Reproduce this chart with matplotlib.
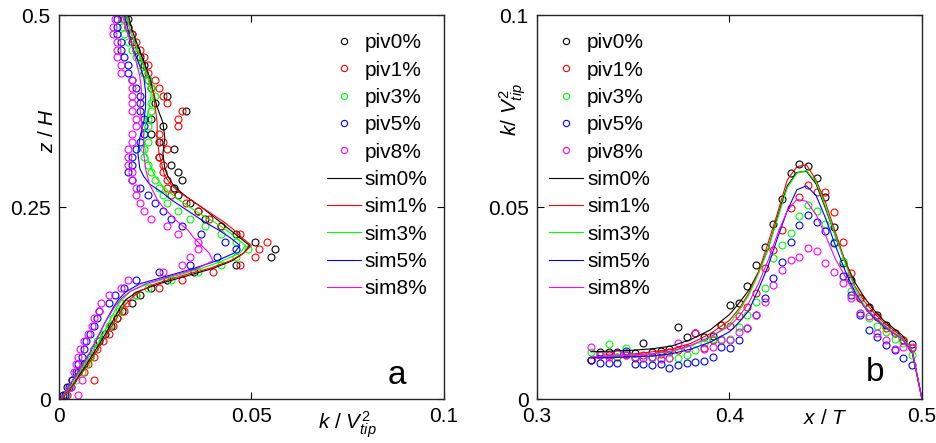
import numpy as np
import matplotlib
matplotlib.use("Agg")
import matplotlib.pyplot as plt

plt.rcParams['font.family'] = ['Liberation Sans', 'DejaVu Sans']
plt.rcParams['mathtext.fontset'] = 'custom'
plt.rcParams['mathtext.rm'] = 'Liberation Sans'
plt.rcParams['mathtext.it'] = 'Liberation Sans:italic'

cases = ['0%', '1%', '3%', '5%', '8%']
colors = ['k', '#ff0000', '#00ff00', '#0000ff', '#ff00ff']

# ---- panel a : k/Vtip^2 vs z/H ----
z_piv = [0.005, 0.015, 0.025, 0.035, 0.045, 0.055, 0.065, 0.075, 0.085, 0.095,
         0.105, 0.115, 0.125, 0.135, 0.145, 0.155, 0.165, 0.175, 0.185, 0.195,
         0.205, 0.215, 0.225, 0.235, 0.245, 0.255, 0.265, 0.275, 0.285, 0.295,
         0.305, 0.315, 0.325, 0.335, 0.345, 0.355, 0.365, 0.375, 0.385, 0.395,
         0.405, 0.415, 0.425, 0.435, 0.445, 0.455, 0.465, 0.475, 0.485, 0.495]

k_piv0 = [0.001, 0.002, 0.0035, 0.005, 0.0065, 0.008, 0.009, 0.0105, 0.012, 0.0135,
          0.015, 0.0165, 0.019, 0.021, 0.024, 0.028, 0.035, 0.046, 0.055, 0.056,
          0.051, 0.046, 0.042, 0.038, 0.036, 0.034, 0.031, 0.030, 0.032, 0.031,
          0.029, 0.026, 0.030, 0.026, 0.024, 0.027, 0.024, 0.033, 0.025, 0.028,
          0.024, 0.023, 0.022, 0.022, 0.021, 0.020, 0.019, 0.019, 0.018, 0.018]
k_piv1 = [0.002, 0.003, 0.009, 0.0065, 0.0075, 0.009, 0.010, 0.0115, 0.013, 0.014,
          0.015, 0.017, 0.0175, 0.020, 0.026, 0.032, 0.040, 0.047, 0.051, 0.052,
          0.054, 0.047, 0.042, 0.039, 0.036, 0.033, 0.029, 0.028, 0.028, 0.027,
          0.027, 0.026, 0.028, 0.027, 0.026, 0.031, 0.031, 0.032, 0.028, 0.027,
          0.026, 0.025, 0.023, 0.023, 0.022, 0.021, 0.020, 0.019, 0.018, 0.017]
k_piv3 = [0.0015, 0.003, 0.0045, 0.006, 0.007, 0.008, 0.009, 0.010, 0.0115, 0.013,
          0.014, 0.0155, 0.016, 0.020, 0.023, 0.029, 0.036, 0.042, 0.046, 0.049,
          0.046, 0.042, 0.038, 0.034, 0.031, 0.028, 0.027, 0.026, 0.025, 0.024,
          0.023, 0.022, 0.022, 0.023, 0.022, 0.023, 0.023, 0.024, 0.024, 0.025,
          0.024, 0.023, 0.022, 0.021, 0.020, 0.019, 0.018, 0.017, 0.0165, 0.0165]
k_piv5 = [0.0015, 0.0025, 0.0035, 0.0045, 0.005, 0.006, 0.0065, 0.007, 0.008, 0.009,
          0.010, 0.0105, 0.013, 0.0145, 0.017, 0.020, 0.026, 0.034, 0.041, 0.046,
          0.043, 0.037, 0.032, 0.029, 0.027, 0.025, 0.023, 0.021, 0.019, 0.018,
          0.019, 0.019, 0.020, 0.021, 0.022, 0.022, 0.022, 0.021, 0.021, 0.021,
          0.020, 0.019, 0.018, 0.018, 0.017, 0.016, 0.016, 0.015, 0.015, 0.015]
k_piv8 = [0.005, 0.003, 0.006, 0.004, 0.0045, 0.005, 0.0055, 0.0065, 0.0075, 0.0085,
          0.009, 0.0105, 0.011, 0.013, 0.016, 0.018, 0.027, 0.032, 0.034, 0.036,
          0.036, 0.031, 0.028, 0.024, 0.022, 0.021, 0.020, 0.020, 0.019, 0.019,
          0.018, 0.018, 0.018, 0.019, 0.019, 0.020, 0.020, 0.019, 0.019, 0.019,
          0.019, 0.019, 0.016, 0.016, 0.015, 0.015, 0.015, 0.014, 0.014, 0.0145]

z_sim = [0, 0.02, 0.04, 0.06, 0.08, 0.1, 0.12, 0.13, 0.14, 0.15, 0.16, 0.17,
         0.18, 0.19, 0.2, 0.21, 0.22, 0.23, 0.24, 0.25, 0.26, 0.27, 0.28, 0.29,
         0.3, 0.32, 0.34, 0.36, 0.38, 0.4, 0.42, 0.44, 0.46, 0.48, 0.5]

k_sim0 = [0.0006, 0.0038, 0.0065, 0.009, 0.0115, 0.0138, 0.016, 0.0175, 0.0205,
          0.026, 0.033, 0.040, 0.045, 0.048, 0.0495, 0.047, 0.0445, 0.042, 0.0395,
          0.037, 0.034, 0.0315, 0.0295, 0.0283, 0.0275, 0.027, 0.0275, 0.027,
          0.0255, 0.0245, 0.0235, 0.022, 0.0205, 0.019, 0.018]
k_sim1 = [0.0008, 0.004, 0.0068, 0.0095, 0.012, 0.0143, 0.0168, 0.0185, 0.021,
          0.025, 0.0315, 0.039, 0.0445, 0.048, 0.050, 0.0475, 0.0455, 0.043, 0.040,
          0.037, 0.034, 0.031, 0.029, 0.0275, 0.027, 0.026, 0.0255, 0.0255, 0.025,
          0.0245, 0.023, 0.0215, 0.020, 0.0185, 0.0175]
k_sim3 = [0.0005, 0.0035, 0.006, 0.0085, 0.011, 0.013, 0.015, 0.0165, 0.0185,
          0.023, 0.030, 0.037, 0.0425, 0.047, 0.0485, 0.046, 0.0435, 0.0405, 0.037,
          0.034, 0.031, 0.0285, 0.0265, 0.025, 0.024, 0.0225, 0.022, 0.0225,
          0.0235, 0.024, 0.023, 0.0215, 0.020, 0.0185, 0.0175]
k_sim5 = [0.0004, 0.003, 0.0055, 0.008, 0.010, 0.012, 0.0142, 0.0155, 0.0175,
          0.021, 0.028, 0.035, 0.041, 0.0455, 0.047, 0.0445, 0.0415, 0.038, 0.035,
          0.032, 0.029, 0.0265, 0.0235, 0.022, 0.021, 0.0205, 0.021, 0.022, 0.0225,
          0.0225, 0.022, 0.0205, 0.019, 0.018, 0.017]
k_sim8 = [0.0004, 0.003, 0.0055, 0.008, 0.010, 0.012, 0.0145, 0.016, 0.0185,
          0.0225, 0.029, 0.036, 0.040, 0.039, 0.037, 0.035, 0.0335, 0.031, 0.029,
          0.027, 0.0255, 0.0245, 0.0235, 0.023, 0.0225, 0.022, 0.022, 0.0215,
          0.021, 0.0215, 0.021, 0.020, 0.019, 0.0175, 0.0165]

# ---- panel b : k/Vtip^2 vs x/T ----
x_piv = [0.3282, 0.3327, 0.3372, 0.3417, 0.3462, 0.3507, 0.3552, 0.3597, 0.3642,
         0.3687, 0.3732, 0.3777, 0.3822, 0.3868, 0.3913, 0.3958, 0.4003, 0.4048,
         0.4093, 0.4138, 0.4183, 0.4228, 0.4273, 0.4318, 0.4363, 0.4408, 0.4453,
         0.4498, 0.4543, 0.4588, 0.4633, 0.4678, 0.4723, 0.4768, 0.4813, 0.4858,
         0.4903, 0.4948]

kb_piv0 = [0.0102, 0.0123, 0.0123, 0.0123, 0.012, 0.012, 0.0145, 0.0123, 0.0126,
           0.0129, 0.0188, 0.0162, 0.0171, 0.0162, 0.0165, 0.0193, 0.0245, 0.0249,
           0.0294, 0.0349, 0.0397, 0.0457, 0.0521, 0.0588, 0.0611, 0.0608, 0.0575,
           0.0527, 0.0449, 0.0353, 0.031, 0.0262, 0.024, 0.0219, 0.0193, 0.0171,
           0.0154, 0.0142]
kb_piv1 = [0.0102, 0.0115, 0.0115, 0.011, 0.0115, 0.0106, 0.0115, 0.011, 0.0117,
           0.0123, 0.0128, 0.0132, 0.0171, 0.0132, 0.0154, 0.0193, 0.019, 0.0216,
           0.024, 0.0275, 0.034, 0.0388, 0.044, 0.0497, 0.0527, 0.0557, 0.054,
           0.054, 0.0488, 0.041, 0.0327, 0.0262, 0.0236, 0.0214, 0.0184, 0.0171,
           0.0154, 0.0132]
kb_piv3 = [0.0123, 0.0115, 0.0142, 0.011, 0.0132, 0.011, 0.0106, 0.0108, 0.0108,
           0.0106, 0.0108, 0.0115, 0.0128, 0.0145, 0.0155, 0.0155, 0.0155, 0.0187,
           0.0218, 0.0252, 0.0288, 0.0368, 0.0401, 0.0433, 0.0477, 0.0505, 0.049,
           0.0457, 0.041, 0.036, 0.028, 0.0225, 0.021, 0.019, 0.0175, 0.0155,
           0.0145, 0.0115]
kb_piv5 = [0.0102, 0.0095, 0.0093, 0.0095, 0.0126, 0.0091, 0.009, 0.0089, 0.009,
           0.0082, 0.0089, 0.0093, 0.0097, 0.0099, 0.011, 0.0136, 0.0132, 0.0154,
           0.0184, 0.0219, 0.0264, 0.0316, 0.0358, 0.041, 0.0453, 0.0479, 0.0462,
           0.0438, 0.0405, 0.032, 0.027, 0.0219, 0.018, 0.0162, 0.0141, 0.0128,
           0.0106, 0.0089]
kb_piv8 = [0.0136, 0.0115, 0.011, 0.0119, 0.0115, 0.011, 0.0106, 0.011, 0.0103,
           0.0106, 0.0145, 0.0132, 0.0171, 0.013, 0.0136, 0.0154, 0.0154, 0.0175,
           0.0184, 0.0219, 0.0253, 0.0297, 0.0336, 0.0362, 0.0371, 0.0392, 0.0386,
           0.0353, 0.0332, 0.0301, 0.0262, 0.0223, 0.0215, 0.0171, 0.0154, 0.0129,
           0.0136, 0.0136]

x_sim = [0.328, 0.34, 0.35, 0.36, 0.37, 0.38, 0.39, 0.40, 0.405, 0.41, 0.415, 0.42,
         0.425, 0.43, 0.435, 0.44, 0.445, 0.45, 0.455, 0.46, 0.465, 0.47, 0.475,
         0.48, 0.485, 0.49, 0.495, 0.5]

kb_sim0 = [0.0123, 0.0125, 0.0127, 0.0131, 0.0138, 0.0155, 0.018, 0.022, 0.025,
           0.0283, 0.033, 0.039, 0.0475, 0.0555, 0.059, 0.0593, 0.056, 0.0495,
           0.0425, 0.036, 0.0305, 0.0265, 0.0232, 0.0205, 0.0185, 0.0165, 0.012, 0.0]
kb_sim1 = [0.0107, 0.011, 0.0117, 0.0123, 0.013, 0.0145, 0.017, 0.0205, 0.0235,
           0.0275, 0.033, 0.0405, 0.0485, 0.057, 0.0605, 0.061, 0.057, 0.051,
           0.0435, 0.036, 0.0295, 0.0255, 0.0225, 0.020, 0.018, 0.016, 0.0125, 0.0]
kb_sim3 = [0.011, 0.0112, 0.0115, 0.0118, 0.0123, 0.0138, 0.016, 0.0195, 0.023,
           0.027, 0.0325, 0.039, 0.047, 0.055, 0.0588, 0.0595, 0.0565, 0.050,
           0.0425, 0.0355, 0.029, 0.0245, 0.0215, 0.0195, 0.0175, 0.0158, 0.0125, 0.0]
kb_sim5 = [0.0107, 0.0108, 0.011, 0.0112, 0.0118, 0.013, 0.0148, 0.0175, 0.020,
           0.023, 0.0285, 0.0345, 0.042, 0.049, 0.0545, 0.0555, 0.053, 0.047,
           0.040, 0.0335, 0.028, 0.024, 0.0212, 0.019, 0.0172, 0.0155, 0.0122, 0.0]
kb_sim8 = [0.011, 0.0112, 0.0115, 0.0118, 0.0125, 0.014, 0.0162, 0.019, 0.0215,
           0.025, 0.030, 0.036, 0.043, 0.049, 0.052, 0.0515, 0.048, 0.0425,
           0.0365, 0.032, 0.0275, 0.024, 0.0215, 0.0192, 0.0172, 0.0155, 0.0122, 0.0]

a_piv = [k_piv0, k_piv1, k_piv3, k_piv5, k_piv8]
a_sim = [k_sim0, k_sim1, k_sim3, k_sim5, k_sim8]
b_piv = [kb_piv0, kb_piv1, kb_piv3, kb_piv5, kb_piv8]
b_sim = [kb_sim0, kb_sim1, kb_sim3, kb_sim5, kb_sim8]

fig = plt.figure(figsize=(9.36, 4.43), dpi=100)
axa = fig.add_axes([0.063, 0.0993, 0.4113, 0.8668])
axb = fig.add_axes([0.5737, 0.0993, 0.4113, 0.8668])

FS = 15
ms = 5

for c, col, kp in zip(cases, colors, a_piv):
    axa.plot(kp, z_piv, 'o', mfc='none', mec=col, ms=ms, mew=0.8, label='piv' + c)
for c, col, ks in zip(cases, colors, a_sim):
    axa.plot(ks, z_sim, '-', color=col, lw=0.8, label='sim' + c)

for c, col, kp in zip(cases, colors, b_piv):
    axb.plot(x_piv, kp, 'o', mfc='none', mec=col, ms=ms, mew=0.8, label='piv' + c)
for c, col, ks in zip(cases, colors, b_sim):
    axb.plot(x_sim, ks, '-', color=col, lw=0.8, label='sim' + c)

axa.set_xlim(0, 0.1)
axa.set_ylim(0, 0.5)
axa.set_xticks([0, 0.05, 0.1])
axa.set_xticklabels(['0', '0.05', '0.1'])
axa.set_yticks([0, 0.25, 0.5])
axa.set_yticklabels(['0', '0.25', '0.5'])

axb.set_xlim(0.3, 0.5)
axb.set_ylim(0, 0.1)
axb.set_xticks([0.3, 0.4, 0.5])
axb.set_xticklabels(['0.3', '0.4', '0.5'])
axb.set_yticks([0, 0.05, 0.1])
axb.set_yticklabels(['0', '0.05', '0.1'])

for ax in (axa, axb):
    ax.tick_params(direction='in', top=True, right=True, length=5, width=0.8,
                   labelsize=FS, pad=6)
    for s in ax.spines.values():
        s.set_linewidth(1.0)
        s.set_color('#262626')

# axis labels placed like the original
axa.text(0.75, -0.068, r'$k$ / $V_{tip}^{2}$', transform=axa.transAxes,
         ha='center', va='center', fontsize=FS)
axa.text(-0.031, 0.70, r'$z$ / $H$', transform=axa.transAxes, rotation=90,
         ha='center', va='center', fontsize=FS)
axb.text(0.748, -0.05, r'$x$ / $T$', transform=axb.transAxes,
         ha='center', va='center', fontsize=FS)
axb.text(-0.062, 0.753, r'$k$/ $V_{tip}^{2}$', transform=axb.transAxes, rotation=90,
         ha='center', va='center', fontsize=FS)

axa.text(0.878, 0.0625, 'a', transform=axa.transAxes, ha='center', va='center',
         fontsize=24)
axb.text(0.878, 0.068, 'b', transform=axb.transAxes, ha='center', va='center',
         fontsize=24)

axa.legend(loc='upper right', bbox_to_anchor=(0.99, 0.985), frameon=False,
           fontsize=FS, handlelength=1.6, handletextpad=0.2, labelspacing=0.4,
           borderaxespad=0.2, markerscale=0.9)
axb.legend(loc='upper left', bbox_to_anchor=(0.0, 0.985), frameon=False,
           fontsize=FS, handlelength=1.6, handletextpad=0.2, labelspacing=0.4,
           borderaxespad=0.2, markerscale=0.9)

fig.savefig('out.png', dpi=100)
